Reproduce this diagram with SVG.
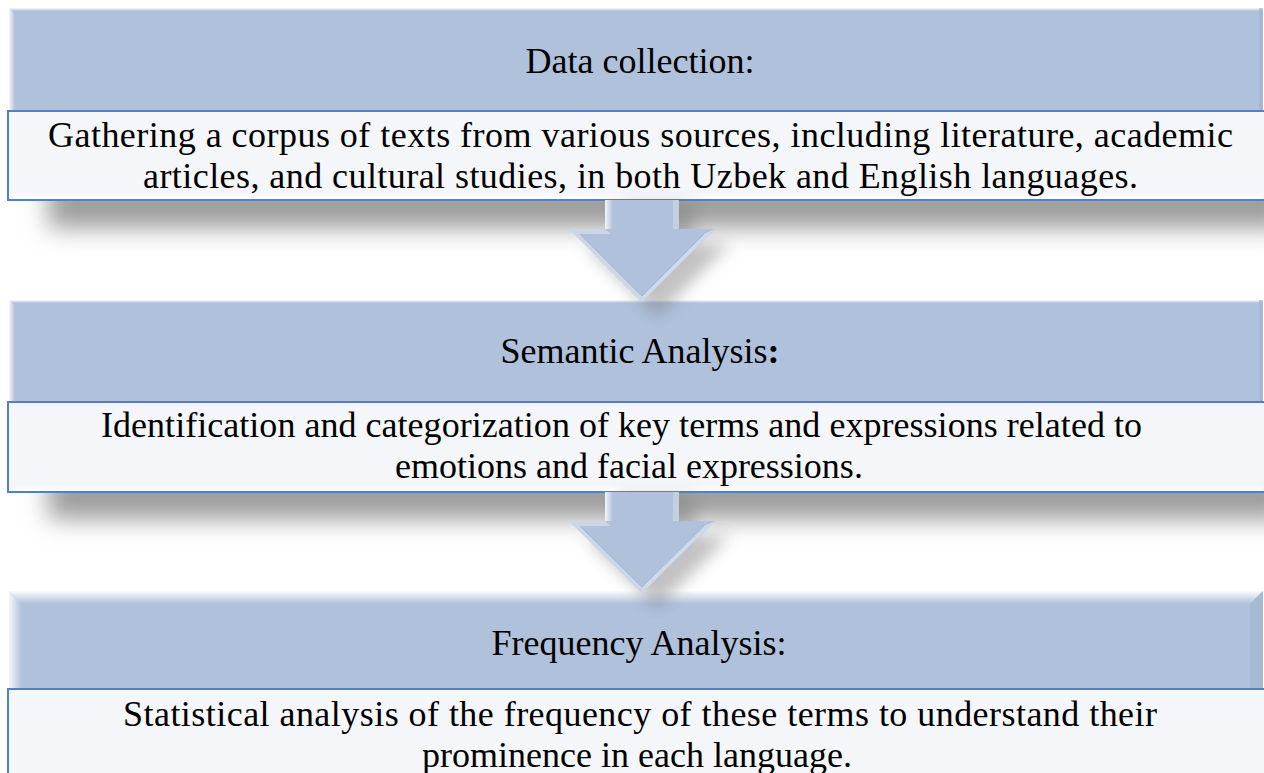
<svg xmlns="http://www.w3.org/2000/svg" width="1264" height="773" viewBox="0 0 1264 773">
  <defs>
    <style>
      .hdr { fill: #AFC1DB; }
      .body { fill: #F4F6F9; stroke: #4F80C8; stroke-width: 2; }
      .txt { font-family: "Liberation Serif", "Times New Roman", serif; font-size: 36px; fill: #000; }
      .mid { text-anchor: middle; }
      .arrow { fill: #AFC1DB; }
    </style>
    <linearGradient id="hiLeft" x1="0" y1="0" x2="1" y2="0">
      <stop offset="0" stop-color="#ffffff" stop-opacity="0.85"/>
      <stop offset="1" stop-color="#ffffff" stop-opacity="0"/>
    </linearGradient>
    <linearGradient id="hiTop" x1="0" y1="0" x2="0" y2="1">
      <stop offset="0" stop-color="#ffffff" stop-opacity="0.95"/>
      <stop offset="1" stop-color="#ffffff" stop-opacity="0"/>
    </linearGradient>
    <linearGradient id="hiBottom" x1="0" y1="0" x2="0" y2="1">
      <stop offset="0" stop-color="#ffffff" stop-opacity="0"/>
      <stop offset="1" stop-color="#ffffff" stop-opacity="0.9"/>
    </linearGradient>
    <filter id="soft" x="-20%" y="-100%" width="140%" height="300%">
      <feGaussianBlur stdDeviation="12"/>
    </filter>
    <filter id="softArrow" x="-50%" y="-50%" width="200%" height="200%">
      <feGaussianBlur stdDeviation="8"/>
    </filter>
  </defs>

  <rect width="1264" height="773" fill="#ffffff"/>

  <!-- drop shadows under the two upper panels -->
  <g id="panel-shadows">
    <rect x="48" y="182" width="1240" height="46" fill="#9c9c9c" filter="url(#soft)"/>
    <rect x="48" y="473" width="1240" height="46" fill="#9c9c9c" filter="url(#soft)"/>
  </g>

  <!-- step 1 -->
  <g id="step-data-collection">
    <rect class="hdr" x="9" y="8" width="1254" height="103"/>
    <rect x="9" y="8" width="1254" height="3" fill="url(#hiTop)"/>
    <polygon points="9,8 15,14 15,111 9,111" fill="url(#hiLeft)"/>
    <rect x="1259" y="8" width="4" height="103" fill="#9fb1cc" opacity="0.6"/>
    <text class="txt mid" x="640" y="73">Data collection:</text>
    <rect class="body" x="8" y="111" width="1262" height="89"/>
    <rect x="10" y="193" width="1252" height="6" fill="url(#hiBottom)"/>
    <text class="txt mid" x="640.5" y="147" textLength="1185" lengthAdjust="spacing">Gathering a corpus of texts from various sources, including literature, academic</text>
    <text class="txt mid" x="640.5" y="188" textLength="995" lengthAdjust="spacing">articles, and cultural studies, in both Uzbek and English languages.</text>
  </g>

  <!-- step 2 -->
  <g id="step-semantic-analysis">
    <rect class="hdr" x="9" y="300" width="1254" height="102"/>
    <rect x="9" y="300" width="1254" height="3" fill="url(#hiTop)"/>
    <polygon points="9,300 15,306 15,402 9,402" fill="url(#hiLeft)"/>
    <rect x="1259" y="300" width="4" height="102" fill="#9fb1cc" opacity="0.6"/>
    <text class="txt mid" x="640" y="363">Semantic Analysis<tspan font-weight="bold">:</tspan></text>
    <rect class="body" x="8" y="402" width="1262" height="90"/>
    <rect x="10" y="485" width="1252" height="6" fill="url(#hiBottom)"/>
    <text class="txt" x="101" y="437" textLength="1041" lengthAdjust="spacing">Identification and categorization of key terms and expressions related to</text>
    <text class="txt" x="395" y="478">emotions and facial expressions.</text>
  </g>

  <!-- step 3 -->
  <g id="step-frequency-analysis">
    <rect class="hdr" x="9" y="591" width="1254" height="98"/>
    <polygon points="9,591 1263,591 1250,604 22,604" fill="url(#hiTop)"/>
    <polygon points="9,591 22,604 22,689 9,689" fill="url(#hiLeft)"/>
    <polygon points="1263,591 1263,689 1250,689 1250,604" fill="#9fb1cc" opacity="0.5"/>
    <text class="txt mid" x="639" y="655">Frequency Analysis:</text>
    <rect class="body" x="8" y="689" width="1262" height="100"/>
    <text class="txt mid" x="640" y="726" textLength="1034" lengthAdjust="spacing">Statistical analysis of the frequency of these terms to understand their</text>
    <text class="txt mid" x="637" y="767">prominence in each language.</text>
  </g>

  <!-- connectors: block arrows between the steps -->
  <g id="connectors">
    <g id="arrow-1-2">
      <path d="M620,205 L694,205 L694,244 L730,244 L657,317 L584,244 L620,244 Z" fill="#777" opacity="0.45" filter="url(#softArrow)"/>
      <path class="arrow" d="M605,200 L679,200 L679,229 L715,229 L642,302 L569,229 L605,229 Z"/>
      <rect x="605" y="200" width="8" height="29" fill="url(#hiLeft)"/>
      <rect x="673" y="200" width="6" height="29" fill="#ffffff" opacity="0.25"/>
      <polygon points="569,229 605,229 611,234 580,234 642,296 642,302" fill="#ffffff" opacity="0.35"/>
      <polygon points="715,229 704,234 642,296 642,302" fill="#dbe4f1" opacity="0.7"/>
      <polyline points="580,234 642,296 704,234" fill="none" stroke="#9aaecb" stroke-width="1" opacity="0.7"/>
    </g>
    <g id="arrow-2-3">
      <path d="M620,497 L694,497 L694,536 L730,536 L657,608 L584,536 L620,536 Z" fill="#777" opacity="0.45" filter="url(#softArrow)"/>
      <path class="arrow" d="M605,492 L679,492 L679,521 L715,521 L642,593 L569,521 L605,521 Z"/>
      <rect x="605" y="492" width="8" height="29" fill="url(#hiLeft)"/>
      <rect x="673" y="492" width="6" height="29" fill="#ffffff" opacity="0.25"/>
      <polygon points="569,521 605,521 611,526 580,526 642,587 642,593" fill="#ffffff" opacity="0.35"/>
      <polygon points="715,521 704,526 642,587 642,593" fill="#dbe4f1" opacity="0.7"/>
      <polyline points="580,526 642,587 704,526" fill="none" stroke="#9aaecb" stroke-width="1" opacity="0.7"/>
    </g>
  </g>
</svg>
